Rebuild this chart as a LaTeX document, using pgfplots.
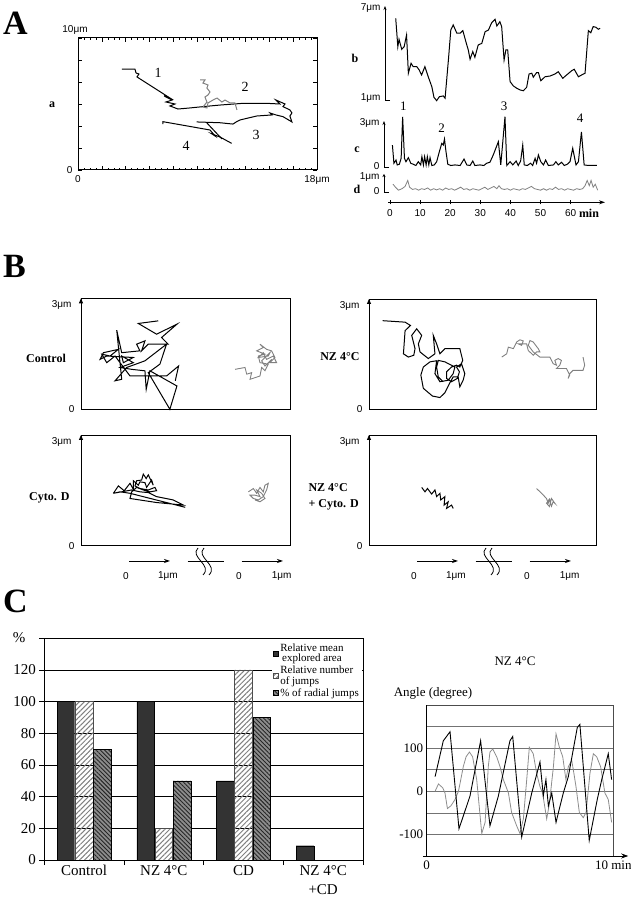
\documentclass[border=0pt]{standalone}
\usepackage{pgfplots}
\pgfplotsset{compat=1.18}
\usepackage{fontspec}
\setmainfont{Liberation Serif}
\newfontfamily\sansf{Liberation Sans}
\usetikzlibrary{arrows.meta,patterns.meta}

\newcommand\sff{\sansf\fontsize{10}{11}\selectfont}
\newcommand\bl{\fontsize{12}{13}\selectfont\bfseries}

\pgfplotsset{
  bare/.style={scale only axis, axis lines=none, clip=false, ticks=none, anchor=south west},
  trk/.style={black, line width=1pt, no marks},
  trkg/.style={black!50, line width=1pt, no marks},
  bbox/.style={scale only axis, clip=false, ticks=none, anchor=south west,
    axis line style={line width=0.7pt}, ymin=0, ymax=3, xmin=0},
  sq/.style={legend image code/.code={\draw[##1, line width=0.3pt] (0pt,-2.5pt) rectangle (5pt,2.5pt);}},
}

\begin{document}
\begin{tikzpicture}
\useasboundingbox (0,0) rectangle (631pt,900pt);

% panel letters
\node[anchor=north west, inner sep=0pt, font=\fontsize{34}{34}\selectfont\bfseries] at (3pt,888pt) {A};
\node[anchor=north west, inner sep=0pt, font=\fontsize{34}{34}\selectfont\bfseries] at (3pt,645pt) {B};
\node[anchor=north west, inner sep=0pt, font=\fontsize{34}{34}\selectfont\bfseries] at (3pt,310pt) {C};

%% ---------- A a : trajectories ----------
\begin{axis}[at={(78pt,730pt)}, anchor=south west, scale only axis,
  width=239pt, height=132pt, xmin=0, xmax=18, ymin=0, ymax=10, clip=false,
  xtick={0,1.8,3.6,5.4,7.2,9,10.8,12.6,14.4,16.2,18},
  ytick={0,1.6667,3.3333,5,6.6667,8.3333,10},
  minor x tick num=3, minor y tick num=3,
  xticklabels={}, yticklabels={}, tick align=inside,
  xtick pos=both, ytick pos=both,
  major tick length=4pt, minor tick length=2pt,
  axis line style={line width=1pt}, tick style={line width=0.7pt, black}]
\addplot[trk] coordinates {(3.31,7.65) (4.29,7.65) (4.37,7.35) (4.59,7.27) (4.44,7.05)
  (6.93,5.45) (6.48,5.61) (7.08,5.30) (6.63,5.15) (7.30,5.00) (6.93,4.85) (7.53,4.62)
  (8.43,4.70) (9.41,4.80) (10.69,4.92) (12.42,5.05) (14.21,5.05) (15.21,5.00) (14.91,5.30)
  (15.59,5.00) (15.44,4.80) (15.96,4.55) (16.11,4.32) (15.96,4.09) (16.11,3.64)
  (15.44,4.04) (14.91,4.17) (14.46,4.32) (14.61,4.17) (13.46,4.09) (12.20,3.79)
  (11.95,3.66) (11.67,3.48) (10.69,3.58) (8.94,3.64)};
\addplot[trk] coordinates {(6.40,3.48) (6.40,3.66) (9.94,3.03) (10.32,2.58) (10.09,2.73) (10.69,2.50) (11.57,2.02)};
\addplot[trk] coordinates {(9.71,3.56) (10.84,2.35)};
\addplot[trkg] coordinates {(9.19,6.82) (9.56,6.82) (9.41,6.59) (9.79,6.44) (9.71,6.21) (9.94,5.91)
  (9.79,5.68) (9.56,5.53) (9.71,5.15) (9.41,4.77) (9.71,4.70) (9.79,5.08) (10.17,5.30)
  (10.47,5.45) (10.84,5.15) (11.07,5.30) (11.45,5.08) (11.82,5.08) (11.97,4.55)};
\node[anchor=south, font=\sff] at ([xshift=-3pt]rel axis cs:0,1) {10μm};
\node[anchor=east, font=\sff] at ([xshift=-2pt]rel axis cs:0,0) {0};
\node[anchor=north, font=\sff] at ([yshift=-2pt]rel axis cs:0,0) {0};
\node[anchor=north, font=\sff] at ([yshift=-2pt]rel axis cs:1,0) {18μm};
\end{axis}
\node[font=\bl] at (52pt,795pt) {a};
\node[font=\fontsize{14}{14}\selectfont] at (158pt,827pt) {1};
\node[font=\fontsize{14}{14}\selectfont] at (245pt,813pt) {2};
\node[font=\fontsize{14}{14}\selectfont] at (256pt,765pt) {3};
\node[font=\fontsize{14}{14}\selectfont] at (186pt,754pt) {4};

%% ---------- A b ----------
\begin{axis}[bare, at={(390pt,801pt)}, width=210.7pt, height=92pt, xmin=0, xmax=70, ymin=1, ymax=7]
\addplot[trk] coordinates {(1.9,6.26) (2.6,4.41) (3.0,4.89) (3.9,4.24) (4.7,4.41) (5.5,5.17) (6.1,2.68)
  (7.0,3.33) (7.7,3.11) (8.9,3.11) (9.7,2.89) (10.5,2.57) (11.6,3.11) (12.7,2.45) (13.9,1.80)
  (14.6,1.11) (15.5,0.89) (16.4,1.15) (17.7,1.20) (18.3,1.05) (19.4,3.54) (20.2,5.50) (21.0,5.83)
  (22.2,5.29) (23.3,5.29) (24.2,5.46) (25.2,4.74) (26.0,4.20) (26.6,3.59) (27.5,4.09) (28.2,3.72)
  (29.3,4.52) (30.5,4.63) (31.6,5.39) (32.7,5.50) (33.8,5.98) (34.9,6.20) (35.5,5.76) (36.5,6.04)
  (37.1,5.72) (37.9,3.54) (38.5,4.20) (39.1,4.20) (39.9,2.13) (41.0,1.85) (42.1,1.70) (43.2,1.59)
  (44.3,1.54) (45.4,1.76) (46.2,2.63) (47.1,2.68) (47.6,2.42) (48.7,2.72) (49.3,2.72) (50.1,2.19)
  (51.5,2.45) (53.2,2.50) (54.8,2.63) (55.9,2.78) (57.4,2.35) (58.7,2.57) (60.4,2.85) (61.2,2.94)
  (62.6,2.45) (63.7,2.57) (64.8,2.68) (65.9,5.46) (66.7,5.32) (67.5,5.72) (68.4,5.68) (69.2,5.55) (69.8,5.61)};
\end{axis}
\draw[line width=0.8pt, -{Stealth[length=4pt,width=3pt]}] (390pt,800pt) -- (385pt,800pt) -- (385pt,894pt);
\node[anchor=east, font=\sff] at (384pt,892pt) {7μm};
\node[anchor=east, font=\sff] at (384pt,802pt) {1μm};
\node[font=\bl] at (355pt,842pt) {b};

%% ---------- A c ----------
\begin{axis}[bare, at={(390pt,734.5pt)}, width=210.7pt, height=42pt, xmin=0, xmax=70, ymin=0, ymax=3]
\addplot[trk] coordinates {(0.8,1.46) (1.3,0.16) (2.0,0.39) (2.4,0.04) (3.1,0.09) (3.7,0.51) (4.2,3.48)
  (4.8,0.51) (5.3,0.27) (6.1,0.56) (6.9,0.16) (7.7,0.09) (8.6,0) (9.4,0.27) (10.2,0.04) (10.6,0.63)
  (11.1,0.04) (11.5,0.63) (12.0,0.04) (12.4,0.63) (12.9,0.04) (13.3,0.56) (13.9,0) (14.7,0.04)
  (15.5,0.27) (16.4,0.99) (17.2,1.58) (17.7,1.46) (18.1,1.89) (18.6,0.99) (19.2,0.09) (20.2,0)
  (21.6,0.04) (23.3,0) (24.6,0.46) (25.5,0.04) (26.6,0) (27.5,0.32) (28.2,0) (29.9,0.04) (31.2,0)
  (32.1,0.16) (33.2,0.23) (34.3,0.75) (36.0,1.70) (36.8,0.04) (38.2,3.48) (38.8,0) (39.9,0.27)
  (40.8,0.04) (41.9,0.32) (42.6,0) (43.4,0.32) (44.1,1.46) (44.6,0.04) (45.6,0) (46.7,0.16)
  (47.4,0) (48.2,0.51) (48.7,0.16) (49.3,0.75) (50.1,0.27) (51.0,0.04) (51.7,0.39) (52.6,0)
  (54.3,0.04) (55.1,0.27) (55.9,0.04) (57.0,0.23) (57.9,0) (58.9,0.09) (59.8,0.27) (60.7,1.23)
  (61.8,0.04) (62.6,0.27) (63.6,2.40) (64.5,0.04) (65.9,0) (67.5,0) (68.7,0)};
\end{axis}
\draw[line width=0.8pt, -{Stealth[length=4pt,width=3pt]}] (389pt,733pt) -- (384pt,733pt) -- (384pt,779pt);
\node[anchor=east, font=\sff] at (383pt,777pt) {3μm};
\node[anchor=east, font=\sff] at (383pt,734pt) {0};
\node[font=\bl] at (357pt,750pt) {c};
\node[font=\fontsize{13}{13}\selectfont] at (403.3pt,793.3pt) {1};
\node[font=\fontsize{13}{13}\selectfont] at (441.7pt,772pt) {2};
\node[font=\fontsize{13}{13}\selectfont] at (504pt,793.3pt) {3};
\node[font=\fontsize{13}{13}\selectfont] at (580pt,782pt) {4};

%% ---------- A d ----------
\begin{axis}[bare, at={(390pt,708.3pt)}, width=210.7pt, height=15pt, xmin=0, xmax=70, ymin=0, ymax=1]
\addplot[trkg, line width=0.8pt] coordinates {(1,0.5) (1.8,0.3) (2.8,0.1) (4,0.2) (5,0.35) (5.9,0.75) (6.5,0.3)
  (7.5,0.15) (8.5,0.2) (9.5,0.1) (10.5,0.2) (11.5,0.15) (12.5,0.25) (13.5,0.1) (14.5,0.2) (15.5,0.12)
  (16.5,0.2) (17.5,0.1) (18.5,0.25) (19.5,0.15) (20.5,0.2) (21.5,0.1) (22.5,0.2) (23.5,0.3) (24.5,0.15)
  (25.5,0.2) (26.5,0.1) (27.5,0.2) (28.5,0.15) (29.5,0.1) (30.5,0.2) (31.5,0.3) (32.5,0.15) (33.5,0.25)
  (34.5,0.35) (35.5,0.2) (36.2,0.4) (37,0.2) (38,0.15) (39,0.2) (40,0.1) (41,0.2) (42,0.15) (43,0.1)
  (44,0.2) (45,0.15) (46,0.25) (47,0.35) (48,0.2) (49,0.15) (50,0.1) (51,0.2) (52,0.1) (53,0.2)
  (54,0.15) (55,0.3) (56,0.15) (57,0.2) (58,0.1) (59,0.2) (60,0.15) (61,0.1) (62,0.2) (63,0.15)
  (64,0.2) (64.8,0.4) (65.5,0.75) (66.2,0.4) (66.8,0.75) (67.5,0.3) (68.2,0.5) (69,0.1)};
\end{axis}
\draw[line width=0.8pt, -{Stealth[length=3pt,width=3pt]}] (389pt,708pt) -- (384pt,708pt) -- (384pt,726pt);
\node[anchor=east, font=\sff] at (383pt,723pt) {1μm};
\node[anchor=east, font=\sff] at (383pt,708.5pt) {0};
\node[font=\bl] at (357pt,711pt) {d};

% time axis
\draw[line width=0.8pt, -{Stealth[length=6pt,width=4pt]}] (388pt,697.7pt) -- (605pt,697.7pt);
\foreach \k in {0,...,6} {
  \pgfmathtruncatemacro\lab{10*\k}
  \draw[line width=0.7pt] (390pt+30.1pt*\k,695.5pt) -- ++(0,4.4pt);
  \node[font=\sff] at (390pt+30.1pt*\k,687pt) {\lab};
}
\node[font=\bl] at (589pt,687pt) {min};

%% ---------- B ----------
% Control
\begin{axis}[bbox, at={(81pt,490.7pt)}, width=209.7pt, height=111pt, xmax=5.05]
\addplot[trk] coordinates {(1.86,2.39) (1.38,2.32) (1.82,2.03) (2.31,2.30) (1.94,1.94) (2.10,1.76)
  (1.62,1.76) (1.46,1.58) (1.54,1.85) (1.34,1.76) (1.42,1.58) (0.98,1.53) (0.86,2.14) (0.98,0.81)
  (0.82,0.77) (1.10,1.13) (1.54,1.31) (2.06,1.76) (1.90,1.22) (1.62,0.99) (2.14,0.00) (2.31,0.63)
  (1.66,1.04) (1.57,0.54) (1.54,1.04) (1.22,1.08) (0.94,1.13) (1.26,1.26) (0.98,1.44) (1.02,1.26)
  (1.26,1.40) (0.62,1.44) (0.46,1.35) (0.54,1.53) (0.90,1.62) (0.70,1.44) (0.50,1.49) (0.62,1.26)
  (0.82,1.44) (0.94,1.26) (1.18,0.90) (2.06,0.90) (2.35,1.17) (2.27,0.77)};
\addplot[trkg, line width=0.9pt] coordinates {(3.71,1.08) (3.95,1.13) (3.99,0.95) (4.11,0.99) (4.07,0.81)
  (4.31,0.90) (4.35,1.13) (4.43,1.04) (4.51,1.22) (4.31,1.26) (4.27,1.44) (4.43,1.49) (4.23,1.58)
  (4.39,1.67) (4.31,1.76) (4.47,1.62) (4.59,1.58) (4.67,1.40) (4.55,1.26) (4.71,1.26) (4.63,1.44)
  (4.47,1.35) (4.39,1.53) (4.27,1.40) (4.51,1.44) (4.55,1.53) (4.35,1.31) (4.43,1.17) (4.59,1.35)};
\draw[line width=0.8pt, -{Triangle[length=5pt,width=4pt]}] (rel axis cs:0,0) -- (rel axis cs:0,1);
\node[anchor=east, font=\sff] at ([xshift=-6pt,yshift=-7pt]rel axis cs:0,1) {3μm};
\node[anchor=east, font=\sff] at ([xshift=-3pt]rel axis cs:0,0) {0};
\end{axis}
\node[font=\bl] at (46pt,542pt) {Control};

% NZ 4C
\begin{axis}[bbox, at={(369pt,490.7pt)}, width=227.7pt, height=110.3pt, xmax=5.49]
\addplot[trk] coordinates {(0.33,2.41) (0.87,2.37) (1.00,2.28) (0.87,2.14) (0.83,1.51) (0.95,1.42)
  (1.08,1.47) (1.11,1.65) (1.03,2.01) (1.15,2.19) (1.27,2.01) (1.19,1.78) (1.23,1.56) (1.43,1.38)
  (1.59,1.51) (1.55,2.01) (1.63,1.78) (1.71,1.51) (1.83,1.65) (2.07,1.65) (2.19,1.65) (2.26,1.33)
  (2.19,1.15) (2.11,1.20) (1.99,1.15) (1.87,1.02) (1.87,0.84) (1.99,0.75) (2.13,0.84) (2.18,1.02)
  (2.11,1.15) (2.23,1.24) (2.31,0.97) (2.27,0.79) (2.19,0.61) (2.15,0.88) (2.03,0.88) (1.94,0.70)
  (1.83,0.45) (1.71,0.32) (1.53,0.36) (1.31,0.57) (1.25,0.93) (1.31,1.15) (1.47,1.29) (1.63,1.32)
  (1.59,0.97) (1.71,0.75) (1.91,0.79) (2.03,0.97) (2.07,1.15) (1.83,1.29) (1.67,1.33) (1.63,1.15)
  (1.67,0.88) (1.79,0.75)};
\addplot[trkg, line width=0.9pt] coordinates {(3.20,1.42) (3.32,1.51) (3.36,1.69) (3.48,1.65) (3.56,1.83)
  (3.64,1.89) (3.72,1.86) (3.68,1.74) (3.60,1.78) (3.80,1.78) (3.84,1.60) (3.96,1.47) (4.04,1.56)
  (4.12,1.56) (4.08,1.65) (3.96,1.83) (3.88,1.87) (3.84,1.74) (3.96,1.56) (4.12,1.42) (4.36,1.42)
  (4.44,1.24) (4.52,1.20) (4.48,1.33) (4.56,1.38) (4.64,1.33) (4.60,1.20) (4.52,1.11) (4.76,1.11)
  (4.84,0.93) (4.80,0.84) (4.84,0.97) (4.92,1.06) (5.16,1.06) (5.20,1.20) (5.16,1.42)};
\draw[line width=0.8pt, -{Triangle[length=5pt,width=4pt]}] (rel axis cs:0,0) -- (rel axis cs:0,1);
\node[anchor=east, font=\sff] at ([xshift=-6pt,yshift=-7pt]rel axis cs:0,1) {3μm};
\node[anchor=east, font=\sff] at ([xshift=-3pt]rel axis cs:0,0) {0};
\end{axis}
\node[font=\bl, anchor=east] at (363pt,543pt) {NZ 4°C};

% Cyto D
\begin{axis}[bbox, at={(81pt,354.3pt)}, width=209.7pt, height=110.7pt, xmax=5.05]
\addplot[trk] coordinates {(0.78,1.42) (0.90,1.62) (1.04,1.49) (1.18,1.69) (1.26,1.53) (1.26,1.76)
  (1.38,1.64) (1.42,1.73) (1.54,1.71) (1.58,1.58) (1.70,1.78) (1.74,1.64) (1.62,1.92) (1.57,1.82)
  (1.50,1.94) (1.46,1.78) (1.34,1.76) (1.30,1.62) (1.42,1.55) (1.62,1.51) (1.78,1.58) (1.82,1.49)
  (1.66,1.46) (1.50,1.51) (1.34,1.58) (1.22,1.46) (1.18,1.28) (1.82,1.17) (2.47,1.10) (2.22,1.24)
  (1.82,1.33) (1.62,1.44) (1.42,1.46) (1.22,1.51) (0.78,1.42) (0.94,1.46) (1.18,1.42) (2.51,1.04)};
\addplot[trkg, line width=0.9pt] coordinates {(4.03,1.46) (4.15,1.55) (4.23,1.42) (4.31,1.58) (4.39,1.46)
  (4.43,1.64) (4.51,1.69) (4.47,1.51) (4.39,1.33) (4.27,1.24) (4.15,1.28) (4.07,1.37) (4.19,1.37)
  (4.31,1.33) (4.23,1.51) (4.35,1.42) (4.43,1.28) (4.31,1.19) (4.19,1.24)};
\draw[line width=0.8pt, -{Triangle[length=5pt,width=4pt]}] (rel axis cs:0,0) -- (rel axis cs:0,1);
\node[anchor=east, font=\sff] at ([xshift=-6pt,yshift=-7pt]rel axis cs:0,1) {3μm};
\node[anchor=east, font=\sff] at ([xshift=-3pt]rel axis cs:0,0) {0};
\end{axis}
\node[font=\bl, anchor=east] at (73pt,401.7pt) {Cyto. D};

% NZ 4C + Cyto D
\begin{axis}[bbox, at={(369pt,354.3pt)}, width=227.7pt, height=110.7pt, xmax=5.49]
\addplot[trk] coordinates {(1.27,1.58) (1.35,1.46) (1.41,1.55) (1.51,1.40) (1.59,1.51) (1.63,1.33)
  (1.71,1.42) (1.73,1.24) (1.83,1.33) (1.81,1.10) (1.91,1.19) (1.87,1.01) (1.99,1.10) (2.03,1.01)};
\addplot[trkg, line width=0.9pt] coordinates {(4.04,1.55) (4.16,1.42) (4.28,1.28) (4.32,1.15) (4.36,1.24)
  (4.40,1.07) (4.44,1.19) (4.48,1.15) (4.40,1.28) (4.35,1.06) (4.28,1.15) (4.36,1.28)};
\draw[line width=0.8pt, -{Triangle[length=5pt,width=4pt]}] (rel axis cs:0,0) -- (rel axis cs:0,1);
\node[anchor=east, font=\sff] at ([xshift=-6pt,yshift=-7pt]rel axis cs:0,1) {3μm};
\node[anchor=east, font=\sff] at ([xshift=-3pt]rel axis cs:0,0) {0};
\end{axis}
\node[font=\fontsize{12}{16}\selectfont\bfseries, anchor=west, align=left] at (305pt,403pt) {NZ 4°C\\+ Cyto. D};

% scale bars
\foreach \dx in {0pt,288pt} {
\begin{scope}[xshift=\dx]
  \draw[line width=0.8pt, -{Stealth[length=6pt,width=4pt]}] (129pt,339pt) -- (170pt,339pt);
  \draw[line width=0.8pt, -{Stealth[length=6pt,width=4pt]}] (241.7pt,339pt) -- (283pt,339pt);
  \draw[line width=0.8pt] (187.7pt,339pt) -- (224pt,339pt);
  \draw[line width=0.8pt] (198pt,352pt) .. controls (189pt,343pt) and (213pt,335pt) .. (203pt,325pt);
  \draw[line width=0.8pt] (204pt,352pt) .. controls (195pt,343pt) and (219pt,335pt) .. (209pt,325pt);
  \node[font=\sff] at (126pt,324pt) {0};
  \node[font=\sff] at (168pt,324pt) {1μm};
  \node[font=\sff] at (239pt,324pt) {0};
  \node[font=\sff] at (281.7pt,324pt) {1μm};
\end{scope}
}

%% ---------- C bar chart ----------
\begin{axis}[at={(44.3pt,40pt)}, anchor=south west, scale only axis,
  width=318.7pt, height=221.7pt, xmin=0, xmax=4, ymin=0, ymax=140,
  ybar=0.6pt, bar width=17.6pt,
  ytick={0,20,...,140}, yticklabels={0,20,40,60,80,100,120,{}},
  ytick pos=left, xtick pos=bottom, tick align=outside, major tick length=5pt,
  xtick={0,1,2,3,4}, xticklabels={},
  extra x ticks={0.5,1.5,2.5,3.5},
  extra x tick labels={Control,NZ 4°C,CD,{NZ 4°C\\+CD}},
  extra x tick style={major tick length=0pt, xticklabel style={align=center}},
  xticklabel style={font=\fontsize{15}{19}\selectfont, yshift=-2pt},
  yticklabel style={font=\fontsize{15}{15}\selectfont},
  ymajorgrids, grid style={black, line width=0.5pt},
  axis line style={line width=0.8pt}, tick style={line width=0.7pt, black},
  legend style={at={(rel axis cs:1,1)}, anchor=north east, draw=none, fill=white,
    font=\fontsize{11}{9}\selectfont, inner sep=1pt, row sep=-1.5pt, xshift=-1pt, yshift=-2pt,
    cells={anchor=west}},
  legend cell align=left]
\addplot[sq, fill=black!80, draw=black] coordinates {(0.5,100) (1.5,100) (2.5,50) (3.5,9)};
\addplot[sq, draw=black!70, pattern={Lines[angle=45,distance=3.5pt,line width=1pt]}, pattern color=black!50]
  coordinates {(0.5,100) (1.5,20) (2.5,120)};
\addplot[sq, draw=black, fill=black!45,
  postaction={pattern={Lines[angle=-45,distance=3pt,line width=0.9pt]}, pattern color=black!85}]
  coordinates {(0.5,70) (1.5,50) (2.5,90)};
\legend{\shortstack{Relative mean\\explored area}, \shortstack[l]{Relative number\\of jumps}, \% of radial jumps}
\end{axis}
\node[anchor=east, font=\fontsize{15}{15}\selectfont] at (29pt,262pt) {\%};

%% ---------- C angle chart ----------
\begin{axis}[at={(426.7pt,44pt)}, anchor=south west, scale only axis,
  width=186.6pt, height=151pt, xmin=0, xmax=10, ymin=-150, ymax=200, clip=false,
  xtick={0,10}, xticklabels={0,10 min},
  ytick={-100,0,100}, yticklabels={-100,0,100}, minor ytick={-50,50,150},
  ymajorgrids, yminorgrids, grid style={black!55, line width=0.6pt},
  major tick length=0pt, minor tick length=0pt,
  tick label style={font=\fontsize{13}{13}\selectfont},
  xticklabel style={yshift=-1pt},
  axis line style={line width=0.6pt, black!70}]
\addplot[no marks, black!45, line width=0.8pt] coordinates {(0.45,0) (0.63,17) (0.86,8) (0.98,-4) (1.11,-40)
  (1.29,-34) (1.52,-19) (1.70,0) (1.79,19) (1.96,57) (2.11,80) (2.29,91) (2.46,80) (2.68,27) (2.95,-98)
  (3.13,-72) (3.30,57) (3.39,91) (3.54,98) (3.75,80) (3.93,57) (4.11,27) (4.38,-4) (4.55,-49) (4.82,-80)
  (5.00,-98) (5.18,-64) (5.36,27) (5.50,102) (5.71,87) (5.89,42) (6.07,11) (6.21,-4) (6.43,-64)
  (6.57,-30) (6.79,57) (6.93,133) (7.11,102) (7.29,80) (7.46,27) (7.59,57) (7.77,72) (7.86,49)
  (8.00,11) (8.18,-49) (8.39,-61) (8.54,-49) (8.75,42) (8.93,87) (9.11,80) (9.32,57) (9.55,-4)
  (9.73,-19) (9.91,-72)};
\addplot[no marks, black, line width=0.9pt] coordinates {(0.45,34) (0.89,117) (1.25,138) (1.73,-87)
  (2.32,-11) (2.89,117) (3.39,-80) (3.84,-11) (4.46,117) (4.61,127) (5.09,-106) (5.63,-4) (6.07,68)
  (6.25,-10) (6.39,27) (6.52,-34) (6.70,-4) (6.93,-72) (7.32,-4) (7.59,34) (8.07,148) (8.21,155)
  (8.71,-114) (9.14,-19) (9.38,27) (9.73,87) (9.91,27)};
\draw[line width=0.8pt, -{Stealth[length=7pt,width=5pt]}] (rel axis cs:-0.02,0) -- (rel axis cs:1.08,0);
\draw[line width=0.8pt] (rel axis cs:0,0) -- (rel axis cs:0,1);
\end{axis}
\node[font=\fontsize{13}{13}\selectfont] at (515pt,238.3pt) {NZ 4°C};
\node[font=\fontsize{13}{13}\selectfont] at (433pt,206.7pt) {Angle (degree)};

\end{tikzpicture}
\end{document}
